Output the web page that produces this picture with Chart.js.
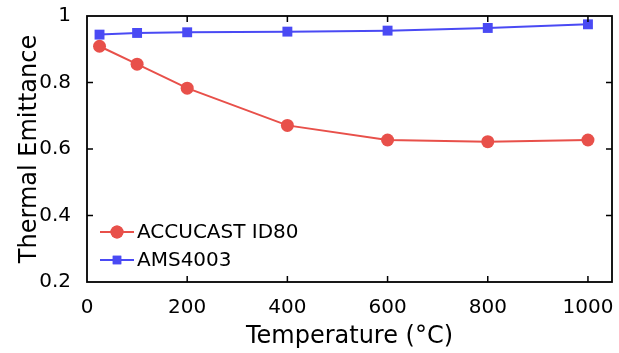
<!DOCTYPE html>
<html><head><meta charset="utf-8">
<script src="https://cdn.jsdelivr.net/npm/chart.js@4/dist/chart.umd.min.js"></script>
<style>html,body{margin:0;padding:0;background:#fff}#w{width:619px;height:353px}</style>
</head><body><div id="w"><canvas id="c" width="619" height="353"></canvas></div>
<script>
const temperatures = [25, 100, 200, 400, 600, 800, 1000];
const accucast = [0.909, 0.855, 0.783, 0.671, 0.627, 0.622, 0.627];
const ams4003 = [0.944, 0.949, 0.951, 0.953, 0.956, 0.964, 0.975];
const xTicks = [0, 200, 400, 600, 800, 1000];
const yTicks = [0.2, 0.4, 0.6, 0.8, 1];
const seriesNames = ['ACCUCAST ID80', 'AMS4003'];
const red = '#E8504A', blue = '#4A4AF4';
const FONT = "Verdana, 'DejaVu Sans', sans-serif";

const innerTicks = {
  id: 'innerTicks',
  afterDraw(chart) {
    const {ctx, chartArea: a, scales: {x, y}} = chart;
    ctx.save();
    ctx.strokeStyle = '#000'; ctx.lineWidth = 1.5;
    const L = 6;
    ctx.beginPath();
    xTicks.forEach(v => {
      const px = x.getPixelForValue(v);
      if (v === 0) return;
      ctx.moveTo(px, a.bottom); ctx.lineTo(px, a.bottom - L);
      ctx.moveTo(px, a.top); ctx.lineTo(px, a.top + L);
    });
    yTicks.forEach(v => {
      const py = y.getPixelForValue(v);
      if (v === 0.2 || v === 1) return;
      ctx.moveTo(a.left, py); ctx.lineTo(a.left + L, py);
      ctx.moveTo(a.right, py); ctx.lineTo(a.right - L, py);
    });
    ctx.stroke();
    ctx.lineWidth = 1.8;
    ctx.strokeRect(a.left, a.top, a.right - a.left, a.bottom - a.top);
    // legend
    const items = [
      {name: seriesNames[0], color: red, style: 'circle', r: 6.5},
      {name: seriesNames[1], color: blue, style: 'rect', r: 6}
    ];
    ctx.font = '20px ' + FONT;
    ctx.textBaseline = 'middle';
    items.forEach((it, i) => {
      const yy = 232 + i * 28;
      ctx.strokeStyle = it.color; ctx.lineWidth = 2;
      ctx.beginPath(); ctx.moveTo(100, yy); ctx.lineTo(134, yy); ctx.stroke();
      ctx.fillStyle = it.color;
      Chart.helpers.drawPoint(ctx, {pointStyle: it.style, radius: it.r, borderWidth: 0}, 117, yy);
      ctx.fill();
      ctx.fillStyle = '#000';
      ctx.fillText(it.name, 137, yy + 1);
    });
    ctx.restore();
  }
};

new Chart(document.getElementById('c'), {
  type: 'line',
  data: {
    datasets: [
      {label: seriesNames[0], data: temperatures.map((t, i) => ({x: t, y: accucast[i]})),
       borderColor: red, backgroundColor: red, borderWidth: 2, pointStyle: 'circle', pointRadius: 6.5, pointBorderWidth: 0},
      {label: seriesNames[1], data: temperatures.map((t, i) => ({x: t, y: ams4003[i]})),
       borderColor: blue, backgroundColor: blue, borderWidth: 2, pointStyle: 'rect', pointRadius: 7, pointBorderWidth: 0}
    ]
  },
  options: {
    responsive: false, animation: false,
    layout: {padding: {top: 16, right: 3, left: 0, bottom: 0}},
    plugins: {legend: {display: false}, tooltip: {enabled: false}},
    scales: {
      x: {
        type: 'linear', min: 0, max: 1048,
        afterBuildTicks(s) { s.ticks = xTicks.map(v => ({value: v})); },
        afterFit(s) { s.height = 71; s.paddingLeft = 0; s.paddingRight = 0; },
        grid: {display: false},
        border: {display: false},
        ticks: {color: '#000', font: {family: FONT, size: 20, lineHeight: 1}, padding: 8, callback: v => String(v)},
        title: {display: true, text: 'Temperature (°C)', color: '#000', font: {family: FONT, size: 24}, padding: {top: 0, bottom: 2}}
      },
      y: {
        type: 'linear', min: 0.2, max: 1,
        afterBuildTicks(s) { s.ticks = yTicks.map(v => ({value: v})); },
        afterFit(s) { s.width = 87; s.paddingTop = 0; s.paddingBottom = 0; },
        grid: {display: false},
        border: {display: false},
        ticks: {color: '#000', font: {family: FONT, size: 20, lineHeight: 1}, padding: 8,
                callback: v => String(v)},
        title: {display: true, text: 'Thermal Emittance', color: '#000', font: {family: FONT, size: 24}, padding: {top: 15, bottom: 0}}
      }
    }
  },
  plugins: [innerTicks]
});
</script></body></html>
